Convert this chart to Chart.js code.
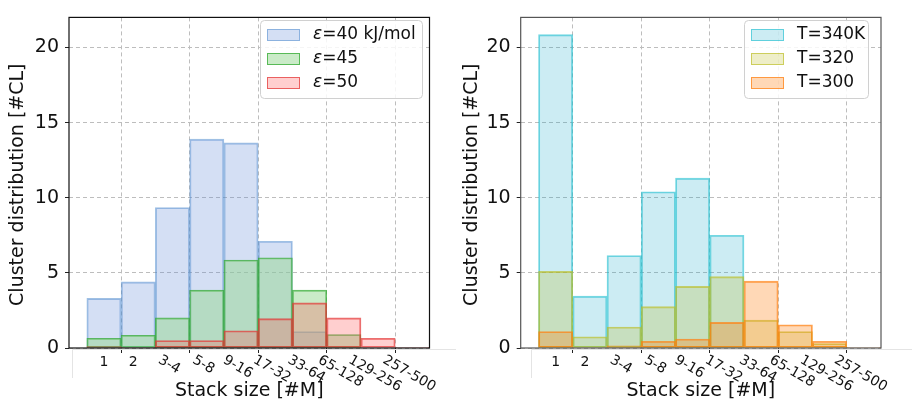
<!DOCTYPE html>
<html>
<head>
<meta charset="utf-8">
<script src="https://cdn.jsdelivr.net/npm/chart.js@4.4.1/dist/chart.umd.min.js"></script>
<style>
  html, body { margin: 0; padding: 0; background: #fff; }
  #wrap { position: relative; width: 912px; height: 402px; }
  .panel { position: absolute; top: 0; width: 456px; height: 402px; }
</style>
</head>
<body>
<div id="wrap">
  <div class="panel" style="left:0"><canvas id="energy" width="456" height="402"></canvas></div>
  <div class="panel" style="left:456px"><canvas id="temp" width="456" height="402"></canvas></div>
</div>
<script>
// stack size bins (number of molecules per stack)
const sizeBins = ['1', '2', '3-4', '5-8', '9-16', '17-32', '33-64', '65-128', '129-256', '257-500'];
const yTicks = [0, 5, 10, 15, 20];
const xGridEdges = [1, 3, 5, 7, 9];

// cluster distribution vs. interaction energy
const eps40 = [3.3, 4.4, 9.35, 13.9, 13.65, 7.1, 1.1, 0, 0, 0];
const eps45 = [0.65, 0.85, 2.0, 3.85, 5.85, 6.0, 3.85, 0.9, 0, 0];
const eps50 = [0.1, 0.05, 0.5, 0.5, 1.15, 1.95, 3.0, 2.0, 0.65, 0.03];

// cluster distribution vs. temperature
const t340 = [20.85, 3.45, 6.15, 10.4, 11.3, 7.5, 0, 0, 0, 0];
const t320 = [5.1, 0.75, 1.4, 2.75, 4.1, 4.75, 1.85, 1.1, 0.3, 0];
const t300 = [1.1, 0.05, 0.15, 0.45, 0.6, 1.7, 4.45, 1.55, 0.45, 0.05];

const FONT = '"DejaVu Sans", sans-serif';

// histogram bars sit on a linear axis, one unit per bin
function toBins(values) {
  return values.map((v, i) => ({ x: i + 0.5, y: v }));
}

// frame, rotated bin labels, axis titles and legend
const decorations = {
  id: 'decorations',
  afterDraw(chart, args, o) {
    const ctx = chart.ctx;
    const a = chart.chartArea;
    const xs = chart.scales.x;
    ctx.save();

    // light box of the label strip under the axis
    ctx.strokeStyle = '#e4e4e4';
    ctx.lineWidth = 1;
    ctx.beginPath();
    ctx.moveTo(o.stripLeft + 0.5, 378);
    ctx.lineTo(o.stripLeft + 0.5, 349.5);
    ctx.lineTo(o.stripRight, 349.5);
    if (o.stripRight < 456) ctx.lineTo(o.stripRight + 0.5, 378);
    ctx.stroke();

    // plot frame
    ctx.strokeStyle = o.frameColor;
    ctx.lineWidth = 1.2;
    ctx.strokeRect(a.left, a.top, a.right - a.left, a.bottom - a.top);

    // bin labels
    ctx.fillStyle = '#111';
    ctx.font = '14px ' + FONT;
    const th = Math.PI / 6;
    sizeBins.forEach((lab, i) => {
      const cx = xs.getPixelForValue(i + 0.5);
      const w = ctx.measureText(lab).width;
      if (i < 2) {
        ctx.textAlign = 'center';
        ctx.textBaseline = 'top';
        ctx.fillText(lab, cx - (i === 1 ? 5 : 0), 355);
      } else {
        const h = 13;
        const ox = cx - (w * Math.cos(th) - h * Math.sin(th)) / 2 - 3;
        ctx.save();
        ctx.translate(ox, 353);
        ctx.rotate(th);
        ctx.textAlign = 'left';
        ctx.textBaseline = 'top';
        ctx.fillText(lab, 0, 0);
        ctx.restore();
      }
    });

    // axis titles
    ctx.font = '19px ' + FONT;
    ctx.textAlign = 'center';
    ctx.textBaseline = 'alphabetic';
    ctx.fillText('Stack size [#M]', (a.left + a.right) / 2, 396);
    ctx.save();
    ctx.translate(o.yTitleX, (a.top + a.bottom) / 2 + 2);
    ctx.rotate(-Math.PI / 2);
    ctx.textBaseline = 'middle';
    ctx.fillText('Cluster distribution [#CL]', 0, 0);
    ctx.restore();

    // legend
    const lx = o.legendX, ly = 20, lw = o.legendW, lh = 78;
    ctx.beginPath();
    ctx.roundRect(lx + 0.5, ly + 0.5, lw, lh, 4);
    ctx.fillStyle = 'rgba(255,255,255,0.85)';
    ctx.fill();
    ctx.strokeStyle = '#d0d0d0';
    ctx.lineWidth = 1;
    ctx.stroke();
    chart.data.datasets.forEach((ds, i) => {
      const sy = ly + 9 + i * 24;
      ctx.fillStyle = ds.backgroundColor;
      ctx.fillRect(lx + 7, sy, 33, 12);
      ctx.strokeStyle = ds.borderColor;
      ctx.strokeRect(lx + 7.5, sy + 0.5, 32, 11);
      ctx.fillStyle = '#111';
      ctx.textAlign = 'left';
      ctx.textBaseline = 'middle';
      let tx = lx + 53;
      let text = ds.label;
      if (text.startsWith('ε')) {
        ctx.font = 'italic 17px ' + FONT;
        ctx.fillText('ε', tx, sy + 6);
        tx += ctx.measureText('ε').width;
        text = text.slice(1);
      }
      ctx.font = '17px ' + FONT;
      ctx.fillText(text, tx, sy + 6);
    });
    ctx.restore();
  }
};

function makeHistogram(id, series, o) {
  return new Chart(document.getElementById(id), {
    type: 'bar',
    data: {
      datasets: series.map((s, i) => ({
        label: s.label,
        data: toBins(s.values),
        backgroundColor: s.fill,
        borderColor: s.edge,
        borderWidth: 1.2,
        borderSkipped: false,
        barPercentage: 1,
        categoryPercentage: 1,
        grouped: false,
        order: series.length - i
      }))
    },
    options: {
      responsive: false,
      animation: false,
      layout: { padding: { top: 12, right: o.rightPad, left: 0, bottom: 0 } },
      plugins: {
        legend: { display: false },
        tooltip: { enabled: false },
        decorations: o
      },
      scales: {
        x: {
          type: 'linear',
          min: -0.52,
          max: 10,
          offset: false,
          afterBuildTicks: (s) => { s.ticks = xGridEdges.map(v => ({ value: v })); },
          afterFit: (s) => { s.height = 54; },
          ticks: { display: false },
          grid: { offset: false, color: '#bdbdbd', lineWidth: 1, tickColor: '#222', tickLength: 5, tickWidth: 1 },
          border: { display: false, dash: [4, 3] }
        },
        y: {
          min: 0,
          max: 22,
          afterBuildTicks: (s) => { s.ticks = yTicks.map(v => ({ value: v })); },
          afterFit: (s) => { s.width = o.yWidth; },
          ticks: { color: '#111', padding: 6, font: { family: FONT, size: 19 } },
          grid: { color: '#bdbdbd', lineWidth: 1, tickColor: '#222', tickLength: 4, tickWidth: 1 },
          border: { display: false, dash: [4, 3] }
        }
      }
    },
    plugins: [decorations]
  });
}

makeHistogram('energy', [
  { label: 'ε=40 kJ/mol', values: eps40, fill: 'rgba(100,140,215,0.28)', edge: 'rgba(80,140,205,0.55)' },
  { label: 'ε=45', values: eps45, fill: 'rgba(150,215,145,0.5)', edge: 'rgba(50,170,50,0.75)' },
  { label: 'ε=50', values: eps50, fill: 'rgba(255,70,70,0.26)', edge: 'rgba(225,50,50,0.7)' }
], {
  yWidth: 69, rightPad: 26.5, frameColor: '#111', yTitleX: 18,
  legendX: 260, legendW: 162, stripLeft: 72, stripRight: 461
});

makeHistogram('temp', [
  { label: 'T=340K', values: t340, fill: 'rgba(23,170,200,0.22)', edge: 'rgba(23,190,207,0.6)' },
  { label: 'T=320', values: t320, fill: 'rgba(188,189,34,0.25)', edge: 'rgba(188,189,34,0.65)' },
  { label: 'T=300', values: t300, fill: 'rgba(255,127,14,0.3)', edge: 'rgba(255,127,14,0.7)' }
], {
  yWidth: 64.7, rightPad: 31, frameColor: '#555', yTitleX: 16,
  legendX: 288, legendW: 124, stripLeft: 75, stripRight: 456
});
</script>
</body>
</html>
